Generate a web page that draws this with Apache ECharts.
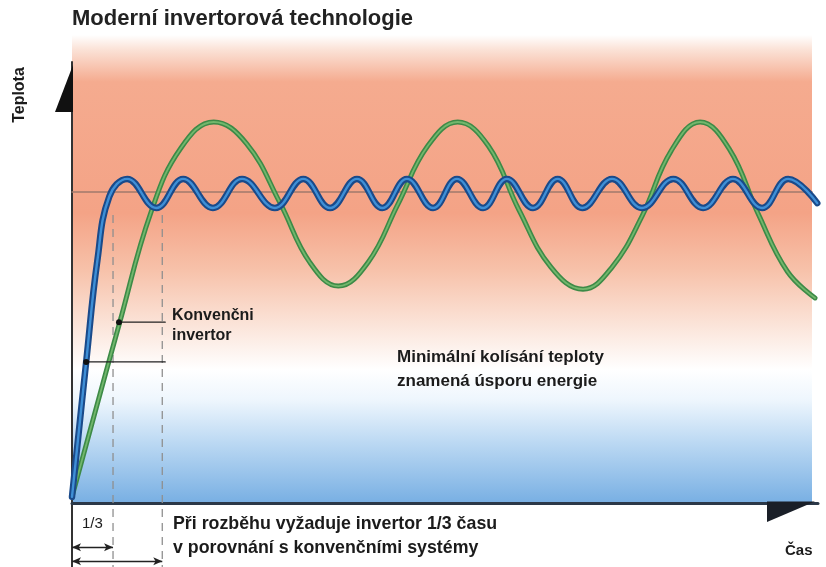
<!DOCTYPE html>
<html><head><meta charset="utf-8">
<script src="https://cdn.jsdelivr.net/npm/echarts@6/dist/echarts.min.js"></script>
<style>html,body{margin:0;padding:0;background:#fff}#c{width:826px;height:567px}</style>
</head><body><div id="c"></div>
<script>
// ---- data (time 0..100, temperature 0..100) ----
const conventionalCurve = [[0,1.4],[6.4,41.0],[10.6,66.0],[14.6,80.5],[19.0,86.4],[23.4,81.5],[27.9,68.0],[31.9,54.5],[35.7,49.2],[39.7,54.6],[43.7,67.8],[47.7,81.0],[51.7,86.4],[55.8,81.0],[59.9,66.5],[64.2,53.5],[68.5,48.5],[72.4,53.5],[76.4,65.0],[80.3,79.8],[84.2,86.4],[88.1,80.3],[92.0,65.5],[95.9,52.5],[99.6,46.5]];
const inverterCurve = [[0,1.4],[1.9,32.0],[3.4,55.0],[5.0,69.5],[7.4,73.5],[11.3,66.9],[14.9,73.5],[18.9,66.9],[22.8,73.5],[27.2,66.9],[31.0,73.5],[34.6,66.9],[38.2,73.5],[41.6,66.9],[44.9,73.5],[48.4,66.9],[51.6,73.5],[55.1,66.9],[58.3,73.5],[61.8,66.9],[65.1,73.5],[68.4,66.9],[72.4,73.5],[76.4,66.9],[80.6,73.5],[84.6,66.9],[88.6,73.5],[92.5,66.9],[96.0,73.5],[99.9,68.0]];
const setpoint = 70.5;
const inverterStartup = 5.5;
const conventionalStartup = 12.1;
const inverterMarker = [1.9, 32.0];
const conventionalMarker = [6.3, 41.0];
const markerEndX = 12.5;
const guideTop = 65.3;
const axisBottom = -14.5;
const arrowRows = [-10.0, -13.2];

const chart = echarts.init(document.getElementById('c'), null, {renderer:'canvas'});
const FONT = "'Liberation Sans', Arial, Helvetica, sans-serif";
const textCol = '#1b1b1b';

function lineSeries(name, data, color, width, z, extra) {
  return Object.assign({
    name, type:'line', data, smooth:0.42, showSymbol:false, silent:true, z,
    lineStyle:{color, width, cap:'round', join:'round'}, animation:false
  }, extra || {});
}

const option = {
  animation:false,
  title:{text:'Moderní invertorová technologie', left:67, top:3,
    textStyle:{fontSize:22, fontWeight:'bold', color:'#222', fontFamily:FONT}},
  grid:{left:72, right:8, top:62, bottom:0, containLabel:false},
  xAxis:{type:'value', min:0, max:100,
    axisLine:{show:true, onZero:true, lineStyle:{color:'#2b3848', width:3}},
    axisTick:{show:false}, axisLabel:{show:false}, splitLine:{show:false}},
  yAxis:{type:'value', min:axisBottom, max:100,
    axisLine:{show:true, lineStyle:{color:'#333', width:2}},
    axisTick:{show:false}, axisLabel:{show:false}, splitLine:{show:false}},
  series:[
    lineSeries('setpoint', [[0,setpoint],[99.2,setpoint]], '#a07a6c', 1.5, 5, {smooth:false}),
    lineSeries('guideInv', [[inverterStartup,guideTop],[inverterStartup,axisBottom]], '#8f8f8f', 1.3, 5,
      {smooth:false, lineStyle:{color:'#8f8f8f', width:1.3, type:[8,6]}}),
    lineSeries('guideConv', [[conventionalStartup,guideTop],[conventionalStartup,axisBottom]], '#8f8f8f', 1.3, 5,
      {smooth:false, lineStyle:{color:'#8f8f8f', width:1.3, type:[8,6]},
       markLine:{silent:true, animation:false, symbol:['arrow','arrow'], symbolSize:[6,9],
         lineStyle:{color:'#222', width:1.3, type:'solid'}, label:{show:false},
         data:[
           [{coord:[0,arrowRows[0]]},{coord:[inverterStartup,arrowRows[0]]}],
           [{coord:[0,arrowRows[1]]},{coord:[conventionalStartup,arrowRows[1]]}]
         ]}}),
    lineSeries('Konvenční', conventionalCurve, '#3d8a47', 5, 10),
    lineSeries('Konvenční core', conventionalCurve, '#72b76c', 1.8, 11),
    lineSeries('Invertor', inverterCurve, '#1a4a8a', 6.5, 12),
    lineSeries('Invertor core', inverterCurve, '#3f8fd6', 2.4, 13),
    lineSeries('markInv', [{value:inverterMarker, symbol:'circle'},{value:[markerEndX,inverterMarker[1]], symbol:'none'}], '#222', 1.2, 20,
      {smooth:false, showSymbol:true, symbolSize:6, itemStyle:{color:'#111'}}),
    lineSeries('markConv', [{value:conventionalMarker, symbol:'circle'},{value:[markerEndX,conventionalMarker[1]], symbol:'none'}], '#222', 1.2, 20,
      {smooth:false, showSymbol:true, symbolSize:6, itemStyle:{color:'#111'}})
  ]
};
chart.setOption(option);

// decorations positioned from the axes
const x0 = chart.convertToPixel({xAxisIndex:0}, 0);
const x100 = chart.convertToPixel({xAxisIndex:0}, 100);
const y0 = chart.convertToPixel({yAxisIndex:0}, 0);
const yTop = chart.convertToPixel({yAxisIndex:0}, 100);

function txt(x, y, text, font, lh) {
  return {type:'text', x, y, silent:true, z:50,
    style:{text, font, fill:textCol, textAlign:'left', textVerticalAlign:'top', lineHeight:lh}};
}

chart.setOption({graphic:[
  {type:'rect', silent:true, z:-10, shape:{x:x0, y:yTop-27, width:(x100-x0)-6, height:y0-(yTop-27)},
   style:{fill:new echarts.graphic.LinearGradient(0,0,0,1,[
     {offset:0, color:'#ffffff'},
     {offset:0.03, color:'#fbe3d8'},
     {offset:0.10, color:'#f5ab8f'},
     {offset:0.38, color:'#f4a386'},
     {offset:0.50, color:'#f7c1a9'},
     {offset:0.62, color:'#fbe4d9'},
     {offset:0.715, color:'#ffffff'},
     {offset:0.78, color:'#eef6fd'},
     {offset:0.87, color:'#bcd9f3'},
     {offset:1, color:'#78afe3'}])}},
  {type:'polygon', silent:true, z:40, shape:{points:[[x0+1,yTop+3],[x0+1,yTop+50],[x0-17,yTop+50]]}, style:{fill:'#111'}},
  {type:'polygon', silent:true, z:40, shape:{points:[[x100-3,y0-1.5],[x100-51,y0-1.5],[x100-51,y0+19]]}, style:{fill:'#1a1f28'}},
  {type:'text', silent:true, z:50, x:20, y:95, rotation:Math.PI/2,
   style:{text:'Teplota', font:"bold 16px "+FONT, fill:textCol, textAlign:'center', textVerticalAlign:'middle'}},
  txt(172, 306, 'Konvenčni\ninvertor', "bold 16px "+FONT, 20),
  txt(397, 345, 'Minimální kolísání teploty\nznamená úsporu energie', "bold 17px "+FONT, 24),
  txt(173, 512, 'Při rozběhu vyžaduje invertor 1/3 času\nv porovnání s konvenčními systémy', "bold 17.8px "+FONT, 24),
  txt(82, 516, '1/3', "15px "+FONT, 16),
  txt(785, 543, 'Čas', "bold 15px "+FONT, 16)
]});
</script>
</body></html>
